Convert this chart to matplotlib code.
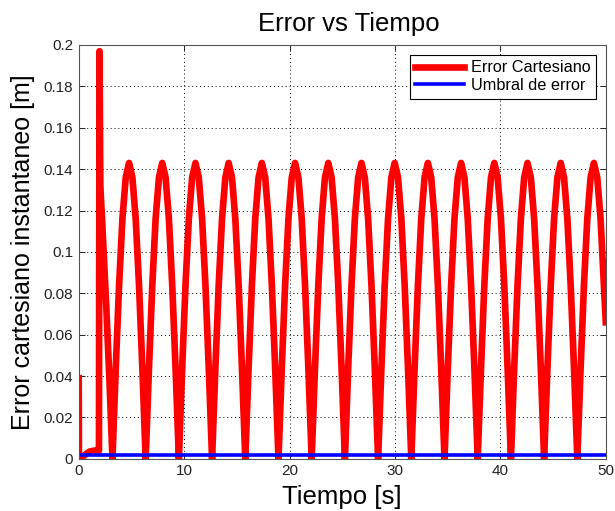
import numpy as np
import matplotlib
matplotlib.use("Agg")
import matplotlib.pyplot as plt

plt.rcParams["font.family"] = ["Liberation Sans", "DejaVu Sans"]

# start-up transient
t_start = [0.0, 0.02, 0.5, 1.0, 1.5, 1.92, 1.97, 2.05, 2.25, 2.6, 2.9]
err_start = [0.039, 0.0, 0.0015, 0.0035, 0.004, 0.004, 0.197, 0.132, 0.112, 0.075, 0.040]

# steady oscillation, sampled every 0.315 s from t = 3.2 s
osc_t0 = 3.2
osc_dt = 0.315
err_osc = [
    0.000, 0.044, 0.084, 0.116, 0.136, 0.143, 0.136, 0.116, 0.084, 0.044,
    0.000, 0.044, 0.084, 0.116, 0.136, 0.143, 0.136, 0.116, 0.084, 0.044,
    0.000, 0.044, 0.084, 0.116, 0.136, 0.143, 0.136, 0.116, 0.084, 0.044,
    0.000, 0.044, 0.084, 0.116, 0.136, 0.143, 0.136, 0.116, 0.084, 0.044,
    0.000, 0.044, 0.084, 0.116, 0.136, 0.143, 0.136, 0.116, 0.084, 0.044,
    0.000, 0.044, 0.084, 0.116, 0.136, 0.143, 0.136, 0.116, 0.084, 0.044,
    0.000, 0.044, 0.084, 0.116, 0.136, 0.143, 0.136, 0.116, 0.084, 0.044,
    0.000, 0.044, 0.084, 0.116, 0.136, 0.143, 0.136, 0.116, 0.084, 0.044,
    0.000, 0.044, 0.084, 0.116, 0.136, 0.143, 0.136, 0.116, 0.084, 0.044,
    0.000, 0.044, 0.084, 0.116, 0.136, 0.143, 0.136, 0.116, 0.084, 0.044,
    0.000, 0.044, 0.084, 0.116, 0.136, 0.143, 0.136, 0.116, 0.084, 0.044,
    0.000, 0.044, 0.084, 0.116, 0.136, 0.143, 0.136, 0.116, 0.084, 0.044,
    0.000, 0.044, 0.084, 0.116, 0.136, 0.143, 0.136, 0.116, 0.084, 0.044,
    0.000, 0.044, 0.084, 0.116, 0.136, 0.143, 0.136, 0.116, 0.084, 0.044,
    0.000, 0.044, 0.084, 0.116, 0.136, 0.143, 0.136, 0.116, 0.084,
]
t_osc = osc_t0 + osc_dt * np.arange(len(err_osc))

# last sample at the end of the run
t_end = [50.0]
err_end = [0.066]

threshold = 0.002
t_range = [0, 50]

xticks = [0, 10, 20, 30, 40, 50]
yticks = [0, 0.02, 0.04, 0.06, 0.08, 0.1, 0.12, 0.14, 0.16, 0.18, 0.2]
ytick_labels = ["0", "0.02", "0.04", "0.06", "0.08", "0.1", "0.12", "0.14", "0.16", "0.18", "0.2"]

t = np.concatenate([t_start, t_osc, t_end])
err = np.concatenate([err_start, err_osc, err_end])

fig = plt.figure(figsize=(6.15, 5.11), dpi=100)
ax = fig.add_axes([0.128, 0.102, 0.857, 0.81])

ax.plot(t, err, color="#ff0000", lw=4.8, solid_joinstyle="round",
        label="Error Cartesiano")
ax.plot(t_range, [threshold, threshold], color="#0000ff", lw=2.6,
        label="Umbral de error")

ax.set_xlim(0, 50)
ax.set_ylim(0, 0.2)
ax.set_xticks(xticks)
ax.set_yticks(yticks, labels=ytick_labels)
ax.tick_params(direction="in", length=4, width=0.7, labelsize=11,
               top=True, right=True, colors="#222222", pad=4)
ax.grid(True, color="black", linestyle=(0, (1, 3)), lw=0.7)
for sp in ax.spines.values():
    sp.set_color("#555555")
    sp.set_linewidth(0.8)

ax.set_title("Error vs Tiempo", fontsize=18.5, pad=10, x=0.513)
ax.set_xlabel("Tiempo [s]", fontsize=18.5, labelpad=5)
ax.set_ylabel("Error cartesiano instantaneo [m]", fontsize=18, labelpad=6)

leg = ax.legend(loc="upper right", fontsize=11.7, handlelength=3.0,
                fancybox=False, framealpha=1, edgecolor="black",
                borderpad=0.35, labelspacing=0.15, handletextpad=0.4,
                borderaxespad=0.6)
leg.get_frame().set_linewidth(0.8)

fig.savefig("out.png", dpi=100)
